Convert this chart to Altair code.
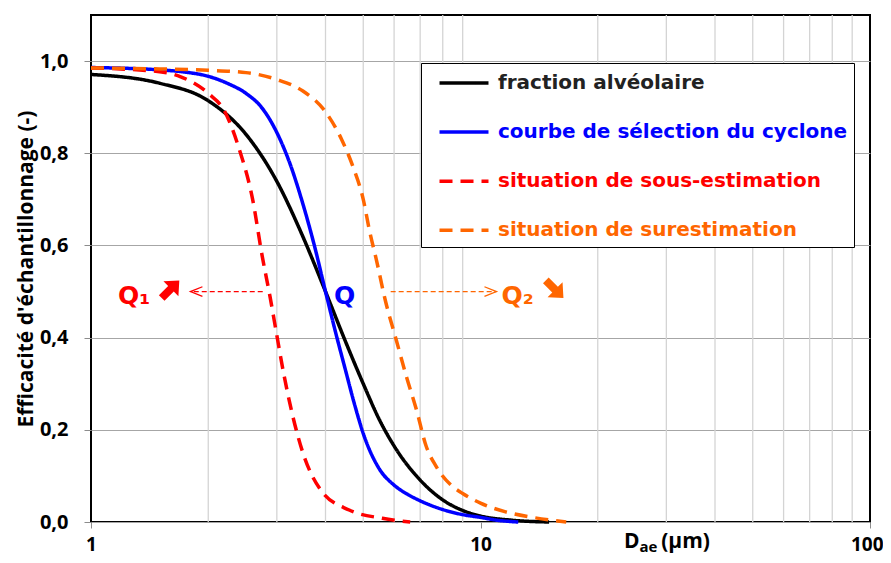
import altair as alt
import pandas as pd

# ---------------- data ----------------
series_names = [
    "fraction alvéolaire",
    "courbe de sélection du cyclone",
    "situation de sous-estimation",
    "situation de surestimation",
]
line_colors = ["#000000", "#0000ff", "#ff0000", "#ff6600"]
label_colors = ["#222222", "#0000ff", "#ff0000", "#ff6600"]

alv_d = [1, 1.5, 2, 2.5, 3, 3.5, 4, 4.5, 5, 5.5, 6, 7, 8, 9, 10, 12, 15]
alv_e = [0.971, 0.952, 0.914, 0.841, 0.739, 0.619, 0.500, 0.392, 0.300, 0.222,
         0.165, 0.091, 0.048, 0.025, 0.013, 0.004, 0.0]

cyc_d = [1, 1.5, 1.75, 2, 2.25, 2.5, 2.75, 3, 3.25, 3.5, 3.75, 4, 4.25, 4.5,
         4.75, 5, 5.5, 6, 6.5, 7, 8, 9, 10, 11, 12.5]
cyc_e = [0.986, 0.981, 0.976, 0.967, 0.951, 0.930, 0.898, 0.845, 0.775, 0.690,
         0.598, 0.500, 0.410, 0.330, 0.255, 0.192, 0.115, 0.080, 0.060, 0.046,
         0.027, 0.016, 0.010, 0.004, 0.0]

sous_d = [1, 1.5, 1.7, 2.0, 2.2, 2.4, 2.6, 2.75, 2.88, 3.0, 3.1, 3.3, 3.5, 3.9,
          4.6, 5.6, 6.6]
sous_e = [0.985, 0.977, 0.966, 0.930, 0.892, 0.810, 0.700, 0.578, 0.490, 0.405,
          0.337, 0.228, 0.150, 0.068, 0.026, 0.008, 0.0]

sur_d = [1, 1.5, 2, 2.5, 3, 3.5, 4, 4.4, 4.7, 5.0, 5.2, 5.4, 5.7, 6.1, 6.45,
         6.85, 7.25, 7.7, 8.4, 9.0, 10, 11.6, 13.6, 16.6]
sur_e = [0.985, 0.983, 0.980, 0.975, 0.960, 0.935, 0.890, 0.830, 0.772, 0.700,
         0.628, 0.570, 0.480, 0.390, 0.316, 0.243, 0.165, 0.120, 0.080, 0.062,
         0.041, 0.022, 0.010, 0.0]

x_tick_values = [1, 10, 100]
x_minor_grid = [2, 3, 4, 5, 6, 7, 8, 9, 20, 30, 40, 50, 60, 70, 80, 90]
y_tick_values = [0.0, 0.2, 0.4, 0.6, 0.8, 1.0]

# dashed arrows Q1 (leftwards) and Q2 (rightwards), at efficiency 0.5
arrow_from = [2.76, 5.88]
arrow_to = [1.80, 10.99]
arrow_level = [0.5, 0.5]

# ---------------- build tables ----------------
rows = []
for name, dd, ee in zip(series_names, [alv_d, cyc_d, sous_d, sur_d],
                        [alv_e, cyc_e, sous_e, sur_e]):
    for i, (a, b) in enumerate(zip(dd, ee)):
        rows.append({"serie": name, "d": a, "e": b, "i": i})
curves = pd.DataFrame(rows)

xscale = alt.Scale(type="log", domain=[1, 100], nice=False)
yscale = alt.Scale(domain=[0, 1.1], nice=False, zero=False)

LBL_FONT = "Open Sans"
TXT_FONT = "DejaVu Sans"

xaxis = alt.Axis(
    values=x_tick_values, title=None, grid=False, domain=False, format="d",
    labelFont=LBL_FONT, labelFontWeight="bold", labelFontSize=19,
    labelColor="black", tickColor="#8c8c8c", tickSize=6, labelPadding=7,
    labelFlush=False,
    labelAlign={"condition": {"test": "datum.value == 100", "value": "right"},
                "value": "center"},
    labelOffset={"condition": {"test": "datum.value == 100", "value": 13},
                 "value": 0},
)
yaxis = alt.Axis(
    values=y_tick_values, grid=True, gridColor="#a6a6a6", gridWidth=1,
    domain=False, labelExpr="replace(format(datum.value, '.1f'), '.', ',')",
    labelFont=LBL_FONT, labelFontWeight="bold", labelFontSize=20,
    labelColor="black", tickColor="#8c8c8c", tickSize=7, labelPadding=16,
    title="Efficacité d'échantillonnage (-)", titleFont=LBL_FONT,
    titleFontWeight="bold", titleFontSize=21, titleColor="black",
    titleAngle=270, titleX=-65, titleY=253.5, titleAlign="center",
    titleBaseline="middle",
)

X = lambda f: alt.X(f, type="quantitative", scale=xscale, axis=xaxis)
Y = lambda f: alt.Y(f, type="quantitative", scale=yscale, axis=yaxis)

vgrid = alt.Chart(pd.DataFrame({"d": x_minor_grid})).mark_rule(
    color="#d4d4d4", strokeWidth=1.3
).encode(x=X("d"))

legend = alt.Legend(
    title=None, orient="none", legendX=330, legendY=48, direction="vertical",
    symbolType="M-2,0L2,0", symbolSize=600, symbolStrokeWidth=3.5,
    labelFont=TXT_FONT, labelFontWeight="bold", labelFontSize=20,
    labelColor={"expr": f"{label_colors}[datum.index]"},
    fillColor="white", strokeColor="black", padding=6, rowPadding=25.1,
    symbolOffset=23, labelOffset=20, labelLimit=600,
)

lines = alt.Chart(curves).mark_line(strokeWidth=3.5, interpolate="monotone").encode(
    x=X("d"),
    y=Y("e"),
    color=alt.Color("serie:N", scale=alt.Scale(domain=series_names, range=line_colors),
                    legend=legend),
    strokeDash=alt.StrokeDash("serie:N", scale=alt.Scale(
        domain=series_names, range=[[1, 0], [1, 0], [13, 8], [13, 8]]), legend=None),
    order="i:Q",
)

arrows_df = pd.DataFrame({"x1": arrow_from, "x2": arrow_to, "y": arrow_level})
arrow_colors = ["#ff0000", "#ff6600"]
arrow_shapes = ["M2,-0.8L0,0L2,0.8", "M-2,-0.8L0,0L-2,0.8"]
arrow_layers = []
for k in range(2):
    sub = arrows_df.iloc[[k]]
    arrow_layers.append(
        alt.Chart(sub).mark_rule(strokeWidth=1.3, strokeDash=[5, 3],
                                 color=arrow_colors[k]).encode(
            x=X("x1"), x2="x2:Q", y=Y("y"))
    )
    arrow_layers.append(
        alt.Chart(sub).mark_point(shape=arrow_shapes[k], size=144, filled=False,
                                  strokeWidth=1.3, opacity=1,
                                  color=arrow_colors[k]).encode(
            x=X("x2"), y=Y("y"))
    )

# text annotations
ann = pd.DataFrame({
    "t": ["Q", "Q₁", "Q₂"],
    "d": [4.48, 1.173, 11.32],
    "e": [0.49, 0.49, 0.49],
})
ann_colors = ["#0000ff", "#ff0000", "#ff6600"]
ann_align = ["center", "left", "left"]
ann_layers = []
for k in range(3):
    ann_layers.append(
        alt.Chart(ann.iloc[[k]]).mark_text(
            font=TXT_FONT, fontWeight="bold", fontSize=25, align=ann_align[k],
            baseline="middle", color=ann_colors[k],
        ).encode(x=X("d"), y=Y("e"), text="t:N")
    )

# thick trend arrows (NE for Q1, SE for Q2)
trend = pd.DataFrame({"d": [1.60, 15.5], "e": [0.505, 0.505]})
fat_arrow = "M-1,-0.32L0.05,-0.32L0.05,-0.85L1,0L0.05,0.85L0.05,0.32L-1,0.32Z"
trend_layers = [
    alt.Chart(trend.iloc[[0]]).mark_point(
        shape=fat_arrow, size=620, filled=True, opacity=1, angle=315,
        color="#ff0000", strokeWidth=0).encode(x=X("d"), y=Y("e")),
    alt.Chart(trend.iloc[[1]]).mark_point(
        shape=fat_arrow, size=620, filled=True, opacity=1, angle=45,
        color="#ff6600", strokeWidth=0).encode(x=X("d"), y=Y("e")),
]

# x-axis title  D_ae (µm)
xt = pd.DataFrame({"t": ["D", "ae", "(µm)"], "d": [25.6, 25.6, 29.1]})
xt_D = alt.Chart(xt.iloc[[0]]).mark_text(
    font=LBL_FONT, fontWeight="bold", fontSize=21, align="right",
    baseline="alphabetic", color="black").encode(x=X("d"), y=alt.value(533), text="t:N")
xt_ae = alt.Chart(xt.iloc[[1]]).mark_text(
    font=LBL_FONT, fontWeight="bold", fontSize=15, align="left",
    baseline="alphabetic", color="black").encode(x=X("d"), y=alt.value(537), text="t:N")
xt_um = alt.Chart(xt.iloc[[2]]).mark_text(
    font=LBL_FONT, fontWeight="bold", fontSize=21, align="left",
    baseline="alphabetic", color="black").encode(x=X("d"), y=alt.value(533), text="t:N")

chart = alt.layer(
    vgrid, lines, *arrow_layers, *ann_layers, *trend_layers, xt_D, xt_ae, xt_um
).properties(
    width=779, height=507,
    autosize=alt.AutoSizeParams(type="none"),
    padding={"left": 83, "top": 7, "right": 13, "bottom": 33},
    background="white",
).configure_view(stroke="black", strokeWidth=2)

chart.save("out.html", embed_options={"renderer": "svg", "actions": False})
